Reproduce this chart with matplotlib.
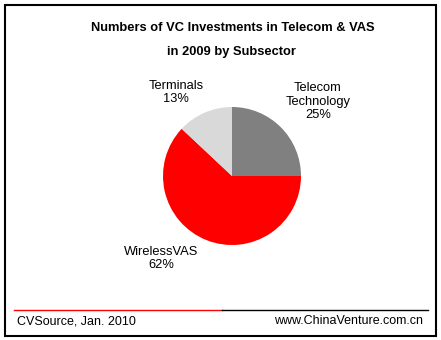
import matplotlib
matplotlib.use("Agg")
import matplotlib.pyplot as plt
from matplotlib.patches import Rectangle
from matplotlib.lines import Line2D

plt.rcParams['font.family'] = ['Liberation Sans', 'DejaVu Sans']

# Subsector shares (clockwise from 12 o'clock)
labels = ["Telecom\nTechnology", "WirelessVAS", "Terminals"]
shares = [25, 62, 13]
colors = ["#808080", "#ff0000", "#d9d9d9"]

title_lines = ["Numbers of VC Investments in Telecom & VAS", "in 2009 by Subsector"]
source_text = "CVSource, Jan. 2010"
site_text = "www.ChinaVenture.com.cn"

W, H = 441, 340
fig = plt.figure(figsize=(W / 100, H / 100), dpi=100)
fig.patch.set_facecolor("white")

# Outer frame
fig.add_artist(Rectangle((4.5 / W, 1 - 335.5 / H), 431.5 / W, 331 / H,
                         transform=fig.transFigure, fill=False,
                         edgecolor="black", linewidth=1.5))

# Title
fig.text(233 / W, 1 - 28 / H, title_lines[0], ha="center", va="center",
         fontsize=9.3, fontweight="bold")
fig.text(231 / W, 1 - 52 / H, title_lines[1], ha="center", va="center",
         fontsize=9.3, fontweight="bold")

# Pie axes: centre (232,176), radius ~69 px
cx, cy, r = 232, 176, 69
ax = fig.add_axes([(cx - r) / W, 1 - (cy + r) / H, 2 * r / W, 2 * r / H])
wedges, _ = ax.pie(shares, colors=colors, startangle=90, counterclock=False,
                   wedgeprops=dict(linewidth=0))
ax.set_aspect("equal")
ax.set_xlim(-1, 1)
ax.set_ylim(-1, 1)
ax.axis("off")

# Slice labels
label_pos = [(318, 101.5), (161, 258.5), (176, 92.5)]
for lab, val, (x, y) in zip(labels, shares, label_pos):
    fig.text(x / W, 1 - y / H, f"{lab}\n{val}%", ha="center", va="center",
             fontsize=9.3, linespacing=1.15)

# Footer rule: red then black
fig.add_artist(Line2D([14 / W, 222 / W], [1 - 309.5 / H] * 2,
                      transform=fig.transFigure, color="#ff0000", linewidth=1))
fig.add_artist(Line2D([222 / W, 428 / W], [1 - 309.5 / H] * 2,
                      transform=fig.transFigure, color="black", linewidth=1))

fig.text(17 / W, 1 - 321 / H, source_text, ha="left", va="center", fontsize=9)
fig.text(423 / W, 1 - 321 / H, site_text, ha="right", va="center", fontsize=9)

fig.savefig("out.png", dpi=100, facecolor="white")
